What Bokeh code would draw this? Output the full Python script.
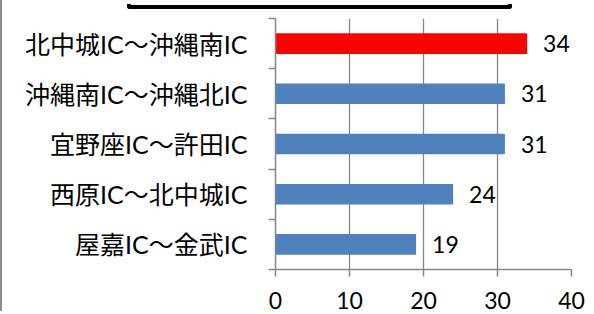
from bokeh.plotting import figure
from bokeh.models import FixedTicker, ColumnDataSource, Div, Range1d
from bokeh.layouts import row, column
from bokeh.embed import file_html
from bokeh.resources import INLINE
from bokeh.core.properties import value

# ---- data ----
categories = ["北中城IC～沖縄南IC", "沖縄南IC～沖縄北IC", "宜野座IC～許田IC",
              "西原IC～北中城IC", "屋嘉IC～金武IC"]
values = [34, 31, 31, 24, 19]
colors = ["#FF0000", "#4F81BD", "#4F81BD", "#4F81BD", "#4F81BD"]
x_ticks = [0, 10, 20, 30, 40]

n = len(categories)
ypos = [n - 0.5 - i for i in range(n)]
bounds = list(range(n + 1))

src = ColumnDataSource(dict(y=ypos, v=values, c=colors, lab=[str(v) for v in values]))

GRAY = "#868686"
LATIN = "Lato"
MIXED = "Lato, 'Noto Sans CJK JP'"

p = figure(width=587, height=307, output_backend="svg", toolbar_location=None,
           x_range=Range1d(0, 40), y_range=Range1d(0, n),
           min_border_left=266, min_border_right=25, min_border_top=6,
           min_border_bottom=50, outline_line_color=None)

p.hbar(y="y", left=0, right="v", height=0.41, fill_color="c", line_color=None, source=src)
p.text(x="v", y="y", text="lab", x_offset=16, text_baseline="middle", text_align="left",
       text_font=value(LATIN), text_font_size="23px", text_color="#000000", source=src)

# x axis
p.xaxis.ticker = FixedTicker(ticks=x_ticks)
p.xaxis.axis_line_color = GRAY
p.xaxis.axis_line_width = 1.5
p.xaxis.major_tick_line_color = GRAY
p.xaxis.major_tick_line_width = 1.5
p.xaxis.major_tick_out = 7
p.xaxis.major_tick_in = 0
p.xaxis.minor_tick_line_color = None
p.xaxis.major_label_text_font = LATIN
p.xaxis.major_label_text_font_size = "23px"
p.xaxis.major_label_text_color = "#000000"
p.xaxis.major_label_standoff = 15

# y axis: labels at centres, tick marks at category boundaries
p.yaxis.ticker = FixedTicker(ticks=ypos, minor_ticks=bounds)
p.yaxis.major_label_overrides = {y: c for y, c in zip(ypos, categories)}
p.yaxis.axis_line_color = GRAY
p.yaxis.axis_line_width = 1.5
p.yaxis.major_tick_out = 0
p.yaxis.major_tick_in = 0
p.yaxis.major_tick_line_color = None
p.yaxis.minor_tick_out = 7
p.yaxis.minor_tick_in = 0
p.yaxis.minor_tick_line_color = GRAY
p.yaxis.minor_tick_line_width = 1.5
p.yaxis.major_label_text_font = MIXED
p.yaxis.major_label_text_font_size = "25px"
p.yaxis.major_label_text_color = "#000000"
p.yaxis.major_label_standoff = 21

p.xgrid.grid_line_color = GRAY
p.xgrid.grid_line_width = 1.3
p.ygrid.grid_line_color = None

# title box (cut off at the top of the picture)
title_div = Div(width=587, height=10,
                text='<div style="margin-left:113px;width:385px;height:5px;'
                     'border:4px solid #000;border-top:none;border-radius:0 0 3px 3px;'
                     'background:#fff;"></div>')

# left edge strip of the surrounding sheet
strip = Div(width=7, height=314,
            text='<div style="position:absolute;top:0;left:0;width:5px;height:314px;'
                 'background:#8DB3E2;border-right:2px solid #8C8C8C;"></div>')

layout = row(strip, column(title_div, p, spacing=0), spacing=0,
             styles={"margin-left": "-8px", "margin-top": "-8px"})

html = file_html(layout, INLINE)
open("out.html", "w").write(html)
